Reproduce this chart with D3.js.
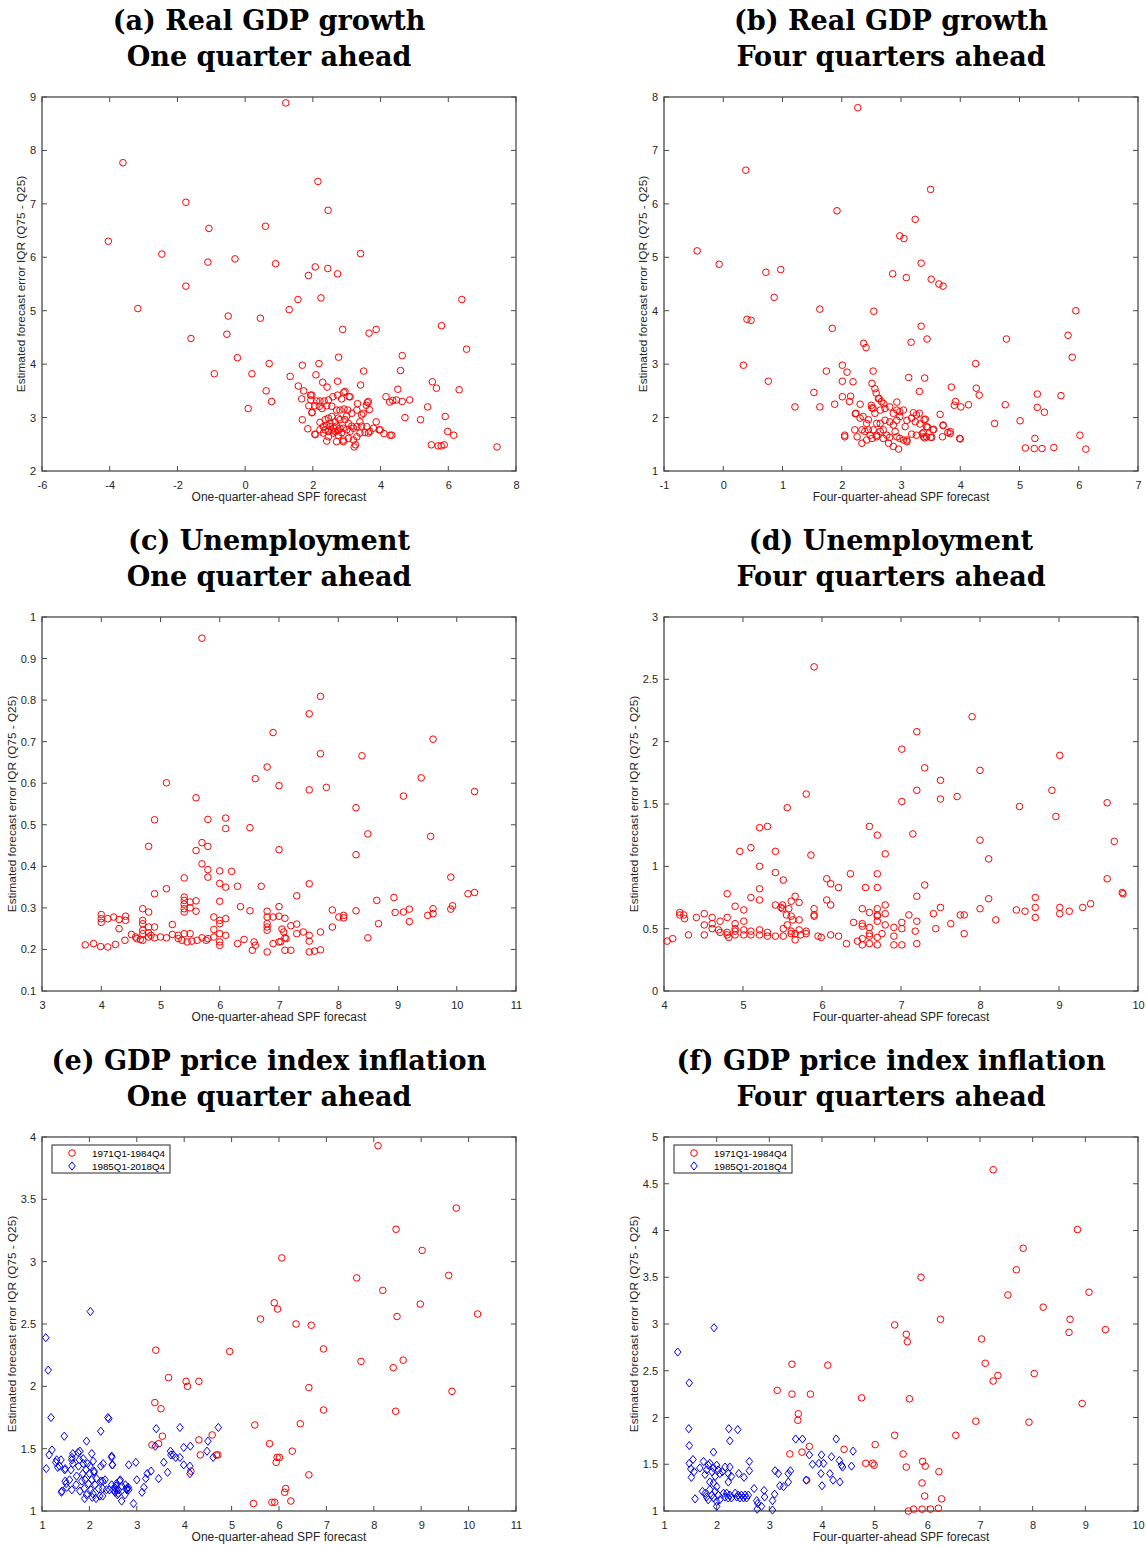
<!DOCTYPE html>
<html><head><meta charset="utf-8">
<script src="https://cdn.jsdelivr.net/npm/d3@7"></script>
<style>body{margin:0;background:#fff} svg{display:block}</style>
</head><body>
<svg id="chart" width="1146" height="1545"></svg>
<script>
// ---------- titles / labels ----------
const titleA = ["(a) Real GDP growth", "One quarter ahead"];
const titleB = ["(b) Real GDP growth", "Four quarters ahead"];
const titleC = ["(c) Unemployment", "One quarter ahead"];
const titleD = ["(d) Unemployment", "Four quarters ahead"];
const titleE = ["(e) GDP price index inflation", "One quarter ahead"];
const titleF = ["(f) GDP price index inflation", "Four quarters ahead"];
const xLabelOne = "One-quarter-ahead SPF forecast";
const xLabelFour = "Four-quarter-ahead SPF forecast";
const yLabel = "Estimated forecast error IQR (Q75 - Q25)";
const legendLabels = ["1971Q1-1984Q4", "1985Q1-2018Q4"];

// ---------- ticks ----------
const xTicksA = [-6,-4,-2,0,2,4,6,8], yTicksA = [2,3,4,5,6,7,8,9];
const xTicksB = [-1,0,1,2,3,4,5,6,7], yTicksB = [1,2,3,4,5,6,7,8];
const xTicksC = [3,4,5,6,7,8,9,10,11], yTicksC = [0.1,0.2,0.3,0.4,0.5,0.6,0.7,0.8,0.9,1];
const xTicksD = [4,5,6,7,8,9,10], yTicksD = [0,0.5,1,1.5,2,2.5,3];
const xTicksE = [1,2,3,4,5,6,7,8,9,10,11], yTicksE = [1,1.5,2,2.5,3,3.5,4];
const xTicksF = [1,2,3,4,5,6,7,8,9,10], yTicksF = [1,1.5,2,2.5,3,3.5,4,4.5,5];

// ---------- data: [SPF forecast, IQR] ----------
const ptsA = [[1.2,8.89],[-3.61,7.77],[2.15,7.42],[-1.75,7.03],[2.45,6.88],[0.6,6.58],[-1.07,6.54],[-4.04,6.3],[-2.46,6.06],[3.41,6.07],[-0.3,5.97],[-1.1,5.91],[0.9,5.88],[2.07,5.82],[2.44,5.79],[2.73,5.69],[1.87,5.66],[-1.75,5.46],[1.56,5.21],[2.24,5.24],[6.4,5.21],[-3.17,5.04],[1.3,5.02],[-0.5,4.9],[0.45,4.86],[5.8,4.72],[2.88,4.65],[3.87,4.65],[3.66,4.58],[-0.54,4.56],[-1.6,4.48],[6.54,4.28],[4.64,4.16],[2.76,4.13],[-0.23,4.12],[0.71,4.01],[1.69,3.98],[2.18,4.01],[-0.91,3.82],[0.2,3.82],[2.09,3.8],[1.33,3.77],[4.59,3.88],[3.5,3.87],[2.73,3.68],[2.29,3.66],[5.53,3.67],[3.41,3.61],[1.57,3.59],[2.42,3.57],[5.65,3.55],[6.32,3.52],[4.51,3.53],[0.62,3.5],[1.73,3.5],[2.91,3.47],[0.78,3.3],[4.16,3.39],[3.07,3.39],[1.93,3.42],[1.67,3.35],[4.27,3.29],[4.36,3.32],[4.47,3.33],[4.64,3.3],[4.86,3.33],[3.61,3.28],[3.58,3.23],[3.67,3.15],[5.39,3.2],[0.09,3.17],[5.91,3.02],[4.72,3.0],[5.18,2.96],[1.69,2.96],[5.98,2.74],[6.16,2.67],[5.5,2.49],[5.7,2.47],[5.79,2.47],[5.88,2.49],[7.44,2.45],[3.87,2.92],[3.96,2.77],[4.1,2.7],[4.28,2.67],[3.22,2.45],[3.26,2.49],[1.85,2.79],[2.07,2.68],[1.97,3.09],[1.88,3.22],
[1.97,3.42],[1.94,3.33],[2.11,3.31],[2.21,3.31],[2.33,3.31],[2.46,3.33],[2.59,3.39],[2.73,3.42],[2.85,3.35],[2.95,3.49],[3.10,3.39],[2.06,3.22],[2.19,3.21],[2.27,3.17],[2.41,3.22],[2.56,3.21],[2.70,3.14],[2.80,3.14],[2.92,3.16],[3.03,3.14],[3.15,3.08],[3.30,3.14],[3.44,3.05],[3.49,3.08],[3.64,3.30],[3.32,3.26],[1.98,3.10],[2.21,2.91],[2.46,2.99],[2.56,3.02],[2.80,2.96],[3.00,3.03],[3.39,2.92],[2.31,2.83],[2.41,2.86],[2.51,2.83],[2.61,2.80],[2.70,2.84],[2.80,2.80],[2.90,2.80],[3.00,2.77],[3.10,2.74],[3.20,2.80],[3.30,2.83],[3.44,2.84],[3.59,2.83],[3.69,2.74],[3.79,2.80],[3.99,2.77],[4.33,2.67],[2.06,2.69],[2.21,2.77],[2.31,2.71],[2.46,2.64],[2.61,2.71],[2.75,2.67],[2.90,2.58],[3.05,2.61],[3.20,2.58],[3.30,2.64],[3.39,2.71],[3.54,2.72],[3.64,2.71],[2.41,2.56],[2.70,2.55],[2.90,2.55],[2.36,2.77],[2.46,2.74],[2.56,2.76],[2.66,2.74],[2.75,2.76],[2.85,2.72],[2.51,2.89],[2.66,2.92],[2.36,2.96],[2.75,2.99],[2.95,2.96],[3.05,2.89],[3.15,2.84]];

const ptsB = [[2.27,7.8],[0.38,6.63],[3.5,6.27],[1.92,5.87],[3.24,5.71],[2.98,5.4],[3.05,5.35],[-0.44,5.12],[3.34,4.89],[-0.07,4.87],[0.97,4.77],[0.72,4.72],[2.86,4.69],[3.09,4.62],[3.51,4.59],[3.64,4.5],[3.71,4.46],[0.86,4.25],[1.63,4.03],[2.54,3.99],[5.95,4.0],[0.4,3.84],[0.47,3.82],[1.84,3.67],[3.34,3.71],[5.82,3.54],[2.37,3.39],[3.44,3.47],[4.78,3.47],[2.41,3.31],[3.17,3.41],[5.89,3.13],[0.34,2.98],[2.01,2.98],[4.26,3.01],[1.74,2.87],[2.09,2.85],[2.53,2.87],[3.13,2.75],[3.4,2.74],[0.76,2.68],[2.01,2.68],[2.19,2.67],[2.51,2.64],[3.85,2.57],[4.27,2.55],[2.56,2.54],[1.53,2.47],[2.58,2.46],[3.31,2.49],[4.32,2.42],[5.3,2.44],[5.7,2.41],[2.01,2.39],[2.15,2.4],[2.13,2.3],[2.62,2.35],[1.21,2.2],[1.63,2.2],[1.88,2.25],[2.31,2.25],[2.5,2.23],[2.51,2.18],[3.92,2.3],[3.9,2.23],[4.01,2.2],[4.14,2.24],[4.76,2.24],[5.3,2.19],[5.42,2.1],[3.66,2.06],[2.23,2.07],[2.36,2.02],[4.58,1.89],[5.01,1.94],[6.02,1.67],[5.26,1.61],[5.1,1.43],[5.25,1.42],[5.38,1.42],[5.58,1.44],[6.12,1.41],[3.99,1.61],[4.0,1.6],[3.71,1.85],[3.7,1.64],[3.54,1.77],[3.79,1.72],[3.83,1.7],[3.39,1.96],[3.45,1.82],[3.5,1.63],[3.36,1.7],[3.38,1.64],[3.4,1.62],
[2.63,2.36],[2.67,2.30],[2.71,2.26],[2.53,2.17],[2.56,2.08],[2.65,2.14],[2.73,2.17],[2.81,2.20],[2.93,2.29],[2.93,2.14],[2.87,2.08],[2.98,2.11],[3.04,2.14],[3.21,2.09],[3.26,2.05],[3.31,2.08],[3.41,1.97],[2.24,2.08],[2.42,1.89],[2.59,1.89],[2.73,1.95],[2.81,1.92],[2.93,1.95],[2.98,2.02],[3.10,1.95],[3.18,1.99],[3.24,1.92],[3.32,1.88],[3.43,1.83],[3.55,1.78],[3.71,1.86],[3.83,1.74],[2.05,1.67],[2.05,1.64],[2.22,1.77],[2.26,1.64],[2.34,1.77],[2.39,1.74],[2.45,1.77],[2.53,1.77],[2.59,1.67],[2.65,1.74],[2.70,1.77],[2.76,1.67],[2.81,1.63],[2.90,1.74],[2.93,1.64],[2.98,1.61],[3.04,1.58],[3.10,1.58],[3.18,1.69],[3.26,1.67],[3.38,1.72],[3.43,1.64],[3.52,1.63],[2.34,1.52],[2.42,1.58],[2.51,1.61],[2.59,1.64],[2.79,1.52],[2.87,1.46],[2.96,1.41],[3.10,1.55],[2.31,1.99],[2.45,1.96],[2.65,1.89],[2.87,1.86],[3.07,1.83],[2.70,1.61],[2.48,1.67]];

const ptsC = [[5.70,0.949],[7.70,0.809],[7.51,0.767],[6.90,0.722],[9.60,0.706],[7.70,0.671],[8.40,0.666],[6.80,0.639],[9.40,0.613],[6.60,0.611],[5.10,0.601],[7.00,0.594],[7.80,0.590],[7.51,0.584],[10.30,0.580],[9.10,0.569],[5.60,0.565],[8.30,0.541],[6.10,0.516],[4.90,0.512],[5.80,0.513],[6.10,0.491],[6.51,0.493],[8.50,0.478],[9.56,0.472],[5.70,0.457],[5.60,0.438],[4.80,0.448],[5.80,0.448],[7.00,0.440],[8.30,0.428],[5.70,0.406],[5.80,0.392],[5.80,0.374],[6.00,0.389],[6.20,0.388],[9.90,0.374],[5.40,0.372],[6.00,0.359],[7.51,0.358],[6.10,0.350],[6.30,0.352],[6.70,0.352],[5.10,0.346],[10.30,0.337],[10.19,0.334],[4.90,0.334],[7.30,0.329],[8.94,0.325],[5.40,0.326],[5.40,0.318],[5.40,0.309],[5.40,0.298],[5.40,0.290],[5.50,0.314],[5.50,0.300],[5.60,0.317],[5.60,0.292],[6.00,0.316],[8.65,0.318],[6.35,0.303],[7.00,0.303],[9.93,0.305],[9.90,0.297],[9.60,0.298],[9.60,0.286],[9.51,0.282],[9.20,0.297],[9.10,0.290],[8.96,0.289],[9.20,0.267],[7.90,0.295],[8.30,0.293],[6.51,0.293],[6.80,0.292],[6.80,0.278],[6.80,0.262],[6.80,0.254],[6.80,0.246],[6.90,0.278],[7.00,0.280],[7.10,0.275],[8.01,0.278],[8.09,0.282],[8.09,0.276],[7.90,0.254],[8.68,0.262],[7.30,0.261],[7.20,0.257],[7.05,0.249],[7.08,0.242],[7.30,0.238],[7.41,0.242],[7.51,0.234],[7.51,0.220],[7.70,0.242],[7.10,0.228],[7.12,0.226],[7.00,0.218],[7.03,0.219],[6.90,0.214],[8.50,0.228],[6.30,0.214],[6.41,0.224],[6.58,0.218],[6.60,0.210],[6.55,0.198],[6.80,0.194],[7.10,0.198],[7.20,0.198],[7.51,0.194],[7.60,0.196],[7.70,0.199],[6.00,0.270],[6.00,0.262],[6.00,0.238],[6.00,0.218],[6.00,0.210],[6.10,0.274],[6.10,0.234],[5.90,0.278],[5.90,0.248],[5.90,0.230],[5.80,0.226],[5.77,0.222],[5.70,0.228],[5.62,0.222],[5.53,0.220],[5.45,0.218],[5.50,0.238],[5.40,0.238],[5.30,0.234],[5.20,0.236],[5.10,0.228],[5.00,0.230],[4.90,0.228],[4.84,0.234],[5.20,0.260],[4.90,0.254],[4.80,0.290],[4.70,0.298],[4.70,0.270],[4.70,0.262],[4.70,0.246],[4.70,0.238],[4.70,0.222],[4.80,0.254],[4.80,0.240],[4.80,0.230],[4.60,0.226],[4.66,0.224],[4.58,0.230],[4.51,0.236],[4.40,0.222],[4.30,0.250],[4.41,0.280],[4.41,0.270],[4.30,0.272],[4.21,0.278],[4.11,0.274],[4.00,0.284],[4.00,0.274],[4.00,0.265],[3.73,0.211],[3.87,0.214],[3.99,0.207],[4.11,0.206],[4.24,0.212],[5.30,0.226],[5.36,0.222]];

const ptsD = [[5.90,2.60],[7.90,2.20],[7.20,2.08],[7.01,1.94],[9.01,1.89],[7.30,1.79],[8.00,1.77],[7.50,1.69],[7.20,1.61],[8.91,1.61],[5.80,1.58],[7.71,1.56],[7.50,1.54],[7.01,1.52],[9.61,1.51],[8.50,1.48],[5.56,1.47],[8.96,1.40],[6.60,1.32],[5.21,1.31],[5.31,1.32],[6.70,1.25],[7.15,1.26],[8.00,1.21],[9.70,1.20],[5.10,1.15],[4.96,1.12],[5.41,1.12],[5.86,1.09],[6.80,1.10],[8.11,1.06],[5.21,1.00],[5.41,0.95],[6.36,0.94],[6.70,0.94],[5.51,0.89],[6.06,0.90],[6.11,0.86],[9.61,0.90],[6.21,0.83],[6.55,0.83],[6.70,0.83],[5.21,0.82],[7.30,0.85],[4.80,0.78],[9.80,0.79],[9.81,0.78],[7.20,0.76],[8.70,0.75],[5.66,0.76],[5.10,0.75],[5.21,0.73],[8.11,0.74],[5.61,0.72],[5.71,0.71],[6.06,0.73],[9.40,0.70],[5.41,0.69],[5.50,0.69],[5.50,0.66],[5.48,0.67],[6.11,0.69],[6.80,0.69],[4.90,0.68],[5.01,0.65],[5.90,0.66],[5.90,0.61],[5.90,0.60],[6.51,0.66],[6.70,0.66],[6.70,0.61],[6.70,0.60],[6.70,0.56],[6.60,0.63],[6.80,0.62],[7.50,0.67],[8.70,0.67],[8.70,0.59],[9.01,0.67],[9.01,0.62],[9.30,0.67],[9.13,0.64],[8.46,0.65],[8.57,0.64],[8.00,0.66],[7.41,0.62],[7.10,0.61],[7.75,0.61],[7.80,0.61],[7.63,0.54],[8.20,0.57],[7.20,0.56],[7.01,0.55],[6.40,0.55],[6.51,0.54],[6.51,0.52],[6.80,0.53],[6.60,0.51],[6.60,0.46],[6.60,0.44],[6.91,0.51],[6.91,0.44],[7.01,0.50],[7.44,0.50],[7.18,0.48],[7.80,0.46],[6.76,0.46],[6.70,0.43],[6.51,0.42],[6.51,0.37],[6.45,0.40],[6.31,0.38],[6.60,0.38],[6.70,0.37],[6.91,0.37],[7.01,0.37],[7.20,0.38],[6.21,0.44],[6.11,0.45],[5.99,0.43],[5.95,0.44],[4.04,0.40],[4.11,0.42],[4.20,0.63],[4.20,0.61],[4.25,0.61],[4.26,0.58],[4.31,0.45],[4.41,0.59],[4.51,0.62],[4.51,0.53],[4.51,0.45],[4.61,0.59],[4.61,0.54],[4.61,0.50],[4.71,0.56],[4.69,0.49],[4.71,0.47],[4.80,0.59],[4.80,0.47],[4.80,0.45],[4.82,0.43],[4.90,0.54],[4.90,0.50],[4.90,0.48],[4.90,0.45],[5.01,0.56],[5.01,0.49],[5.01,0.45],[5.10,0.48],[5.10,0.45],[5.21,0.49],[5.21,0.45],[5.31,0.47],[5.31,0.44],[5.41,0.44],[5.51,0.50],[5.51,0.44],[5.56,0.53],[5.61,0.48],[5.61,0.46],[5.63,0.57],[5.61,0.60],[5.66,0.46],[5.66,0.41],[5.71,0.57],[5.71,0.49],[5.73,0.45],[5.80,0.48],[5.80,0.46],[5.55,0.61],[5.58,0.66]];

const ptsE_early = [[8.09,3.93],[9.74,3.43],[8.47,3.26],[9.02,3.09],[6.06,3.03],[7.64,2.87],[9.58,2.89],[8.19,2.77],[5.90,2.67],[8.98,2.66],[5.97,2.62],[10.19,2.58],[8.49,2.56],[5.61,2.54],[6.36,2.50],[6.68,2.49],[3.40,2.29],[4.96,2.28],[6.94,2.30],[7.73,2.20],[8.62,2.21],[8.41,2.15],[3.67,2.07],[4.04,2.04],[4.07,2.00],[4.31,2.04],[6.63,1.99],[9.65,1.96],[3.38,1.87],[3.51,1.82],[6.94,1.81],[8.46,1.80],[5.49,1.69],[6.45,1.70],[3.54,1.60],[4.59,1.61],[4.31,1.57],[3.46,1.54],[3.32,1.53],[5.80,1.54],[6.28,1.48],[4.34,1.45],[4.68,1.45],[4.71,1.45],[5.96,1.43],[6.01,1.43],[5.94,1.39],[4.14,1.32],[6.63,1.29],[6.14,1.18],[6.12,1.15],[5.46,1.06],[5.85,1.07],[5.91,1.07],[6.25,1.08]];

const ptsE_late = [[2.02,2.60],[1.08,2.39],[1.13,2.13],[1.19,1.75],[2.39,1.75],[2.41,1.74],[2.24,1.64],[3.91,1.67],[3.41,1.66],[4.72,1.67],[1.47,1.60],[1.94,1.56],[4.50,1.56],[1.21,1.49],[1.15,1.45],[3.99,1.51],[4.13,1.52],[3.39,1.52],[1.76,1.47],[1.65,1.46],[1.63,1.43],[1.63,1.41],[3.71,1.48],[3.72,1.45],[3.77,1.45],[3.82,1.43],[4.48,1.48],[4.61,1.43],[2.47,1.43],[1.09,1.34],[1.40,1.41],[1.29,1.39],[1.33,1.35],[3.57,1.39],[2.98,1.39],[2.83,1.37],[3.91,1.43],[3.99,1.37],[4.12,1.36],[2.48,1.37],[2.24,1.36],[3.30,1.32],[3.22,1.30],[3.65,1.31],[4.12,1.30],[1.48,1.33],[2.10,1.31],[3.00,1.25],[3.46,1.26],[3.19,1.26],[3.15,1.19],[3.11,1.15],[2.64,1.24],[2.57,1.22],[2.53,1.19],[2.57,1.17],[2.61,1.14],[2.68,1.08],[2.83,1.17],[2.93,1.06],[2.76,1.21],[2.79,1.18],[1.41,1.15],[1.51,1.22],[2.28,1.24],[2.28,1.12],[2.06,1.11],[1.90,1.10],
[1.42,1.16],[1.49,1.24],[1.52,1.19],[1.58,1.25],[1.61,1.33],[1.63,1.17],[1.65,1.38],[1.72,1.21],[1.73,1.28],[1.77,1.36],[1.79,1.41],[1.80,1.16],[1.84,1.24],[1.86,1.30],[1.87,1.38],[1.89,1.18],[1.91,1.25],[1.93,1.33],[1.94,1.13],[1.96,1.38],[1.98,1.22],[2.00,1.30],[2.01,1.36],[2.03,1.17],[2.05,1.25],[2.07,1.14],[2.08,1.40],[2.10,1.32],[2.12,1.21],[2.14,1.10],[2.15,1.26],[2.19,1.18],[2.22,1.12],[2.24,1.24],[2.28,1.18],[2.29,1.38],[2.33,1.25],[2.36,1.17],[2.42,1.17],[2.47,1.21],[2.51,1.17],[2.54,1.15],[2.56,1.20],[2.59,1.13],[2.61,1.17],[2.65,1.25],[2.68,1.20],[2.75,1.13],[2.79,1.17],[2.82,1.19],[2.47,1.44],[2.49,1.37],[2.05,1.46],[1.87,1.42],[1.80,1.48],[1.31,1.41],[1.49,1.34],[1.37,1.36]];

const ptsF_early = [[7.25,4.65],[8.85,4.01],[7.82,3.81],[7.69,3.58],[5.88,3.50],[7.53,3.31],[9.07,3.34],[8.20,3.18],[6.25,3.05],[8.71,3.05],[5.38,2.99],[9.38,2.94],[8.69,2.91],[5.60,2.89],[5.62,2.81],[7.03,2.84],[7.10,2.58],[3.43,2.57],[4.11,2.56],[8.03,2.47],[7.34,2.45],[7.25,2.39],[3.15,2.29],[3.43,2.25],[3.78,2.25],[4.75,2.21],[5.66,2.20],[8.94,2.15],[3.55,2.04],[3.54,1.97],[6.92,1.96],[7.93,1.95],[5.38,1.81],[6.54,1.81],[5.01,1.71],[3.76,1.69],[4.42,1.66],[3.62,1.63],[3.39,1.61],[5.54,1.61],[4.83,1.51],[4.96,1.51],[4.99,1.49],[5.91,1.53],[5.96,1.48],[5.60,1.47],[6.22,1.42],[3.71,1.33],[5.90,1.30],[5.95,1.16],[6.27,1.13],[6.21,1.03],[6.06,1.02],[5.90,1.02],[5.74,1.02],[5.64,1.00]];

const ptsF_late = [[1.95,2.96],[1.26,2.70],[1.48,2.37],[1.47,1.88],[1.48,1.70],[2.23,1.88],[2.40,1.87],[2.25,1.75],[1.94,1.63],[2.62,1.53],[3.50,1.77],[3.63,1.77],[4.27,1.77],[4.59,1.64],[3.76,1.60],[3.99,1.60],[4.18,1.58],[4.33,1.54],[3.82,1.50],[3.94,1.51],[4.03,1.51],[4.37,1.49],[4.39,1.47],[4.56,1.48],[3.98,1.40],[4.15,1.40],[4.21,1.33],[4.34,1.31],[4.00,1.27],[3.70,1.33],[3.40,1.43],[3.36,1.40],[3.36,1.31],[3.11,1.43],[3.17,1.40],[3.20,1.27],[3.27,1.26],[3.10,1.18],[3.06,1.11],[3.06,1.01],[2.90,1.22],[2.91,1.15],[2.71,1.24],[2.76,1.11],[2.78,1.08],[2.77,1.02],[2.85,1.05],[2.62,1.43],[2.52,1.36],[2.42,1.40],[1.48,1.51],[1.51,1.45],[1.52,1.36],[1.55,1.55],[1.57,1.42],[1.59,1.13],[1.68,1.46],
[1.75,1.53],[1.81,1.44],[1.78,1.39],[1.84,1.49],[1.87,1.51],[1.91,1.42],[1.94,1.46],[1.97,1.37],[2.00,1.49],[2.03,1.44],[1.94,1.30],[2.00,1.26],[2.06,1.40],[2.11,1.42],[2.16,1.47],[2.22,1.40],[2.25,1.47],[2.28,1.37],[2.22,1.31],[1.87,1.31],[1.73,1.21],[1.78,1.19],[1.81,1.15],[1.84,1.12],[1.87,1.23],[1.91,1.17],[1.94,1.14],[1.97,1.21],[2.00,1.10],[2.03,1.17],[2.06,1.12],[2.13,1.19],[2.16,1.15],[2.19,1.19],[2.22,1.14],[2.25,1.17],[2.28,1.14],[2.35,1.19],[2.38,1.15],[2.41,1.17],[2.44,1.14],[2.47,1.17],[2.51,1.14],[2.54,1.17],[2.57,1.14],[2.60,1.17],[2.00,1.05]];

// ---------- drawing ----------
const svg = d3.select('#chart');
const W = 474, H = 374;
const colX = [42, 664], rowY = [97, 617, 1137];
const axisColor = '#262626';
const boxColor = '#4a4a4a';
const sans = '"Liberation Sans", Arial, Helvetica, sans-serif';
const serif = '"DejaVu Serif", "Liberation Serif", serif';
const RED = '#ff0000', BLUE = '#0000ff';

// calibrate title size against the reference width of the first title line
const probe = svg.append('text').attr('font-family', serif).attr('font-weight', 'bold')
  .attr('font-size', 100).text(titleA[0]);
const titleSize = 100 * 313 / probe.node().getComputedTextLength();
probe.remove();

const circle = (g, pts, x, y) => g.append('g').selectAll('circle').data(pts).join('circle')
  .attr('cx', d => x(d[0])).attr('cy', d => y(d[1])).attr('r', 3.3)
  .attr('fill', 'none').attr('stroke', RED).attr('stroke-width', 1);
const diamondPath = 'M0,-4.1L3.3,0L0,4.1L-3.3,0Z';
const diamond = (g, pts, x, y) => g.append('g').selectAll('path').data(pts).join('path')
  .attr('transform', d => `translate(${x(d[0])},${y(d[1])})`).attr('d', diamondPath)
  .attr('fill', 'none').attr('stroke', BLUE).attr('stroke-width', 1);

function panel(col, row, title, xlabel, xTicks, yTicks, series, legend) {
  const x0 = colX[col], y0 = rowY[row];
  const g = svg.append('g').attr('transform', `translate(${x0},${y0})`);
  const x = d3.scaleLinear().domain(d3.extent(xTicks)).range([0, W]);
  const y = d3.scaleLinear().domain(d3.extent(yTicks)).range([H, 0]);

  // titles
  title.forEach((t, i) => svg.append('text')
    .attr('x', x0 + W / 2 - 10).attr('y', y0 - 67 + i * 36)
    .attr('text-anchor', 'middle').attr('font-family', serif).attr('font-weight', 'bold')
    .attr('font-size', titleSize).attr('fill', '#000').text(t));

  // axes (MATLAB box style with inward ticks on all sides)
  const fmt = v => String(v);
  const bottom = d3.axisBottom(x).tickValues(xTicks).tickSize(0).tickFormat(fmt).tickPadding(10);
  const left = d3.axisLeft(y).tickValues(yTicks).tickSize(0).tickFormat(fmt).tickPadding(6);
  const gb = g.append('g').attr('transform', `translate(0,${H})`).call(bottom);
  const gl = g.append('g').call(left);
  [gb, gl].forEach(a => {
    a.select('.domain').remove();
    a.selectAll('text').attr('font-family', sans).attr('font-size', 11).attr('fill', axisColor);
  });
  const tl = 5;
  const tk = g.append('g').attr('stroke', boxColor).attr('stroke-width', 1);
  xTicks.forEach(v => {
    tk.append('line').attr('x1', x(v)).attr('x2', x(v)).attr('y1', H).attr('y2', H - tl);
    tk.append('line').attr('x1', x(v)).attr('x2', x(v)).attr('y1', 0).attr('y2', tl);
  });
  yTicks.forEach(v => {
    tk.append('line').attr('x1', 0).attr('x2', tl).attr('y1', y(v)).attr('y2', y(v));
    tk.append('line').attr('x1', W).attr('x2', W - tl).attr('y1', y(v)).attr('y2', y(v));
  });
  g.append('rect').attr('x', 0).attr('y', 0).attr('width', W).attr('height', H)
    .attr('fill', 'none').attr('stroke', boxColor).attr('stroke-width', 1.3);

  // axis labels
  g.append('text').attr('x', W / 2).attr('y', H + 30).attr('text-anchor', 'middle')
    .attr('font-family', sans).attr('font-size', 12).attr('fill', axisColor).text(xlabel);
  let maxW = 0;
  gl.selectAll('text').each(function () { maxW = Math.max(maxW, this.getComputedTextLength()); });
  g.append('text').attr('transform', `translate(${-maxW - 11},${H / 2}) rotate(-90)`)
    .attr('text-anchor', 'middle').attr('font-family', sans).attr('font-size', 11.8)
    .attr('fill', axisColor).text(yLabel);

  // data
  series.forEach(s => s.kind === 'circle' ? circle(g, s.pts, x, y) : diamond(g, s.pts, x, y));

  // legend
  if (legend) {
    const lg = g.append('g').attr('transform', `translate(${legend.dx},8)`);
    lg.append('rect').attr('x', 0).attr('y', 0).attr('width', legend.w).attr('height', 28)
      .attr('fill', '#fff').attr('stroke', axisColor).attr('stroke-width', 1);
    legendLabels.forEach((t, i) => {
      const cy = 8 + i * 13;
      if (i === 0) lg.append('circle').attr('cx', 20).attr('cy', cy).attr('r', 3.3)
        .attr('fill', 'none').attr('stroke', RED).attr('stroke-width', 1);
      else lg.append('path').attr('transform', `translate(20,${cy})`).attr('d', diamondPath)
        .attr('fill', 'none').attr('stroke', BLUE).attr('stroke-width', 1);
      lg.append('text').attr('x', 40).attr('y', cy + 3.5).attr('font-family', sans)
        .attr('font-size', 9.8).attr('fill', '#000').text(t);
    });
  }
}

panel(0, 0, titleA, xLabelOne, xTicksA, yTicksA, [{kind: 'circle', pts: ptsA}]);
panel(1, 0, titleB, xLabelFour, xTicksB, yTicksB, [{kind: 'circle', pts: ptsB}]);
panel(0, 1, titleC, xLabelOne, xTicksC, yTicksC, [{kind: 'circle', pts: ptsC}]);
panel(1, 1, titleD, xLabelFour, xTicksD, yTicksD, [{kind: 'circle', pts: ptsD}]);
panel(0, 2, titleE, xLabelOne, xTicksE, yTicksE,
  [{kind: 'circle', pts: ptsE_early}, {kind: 'diamond', pts: ptsE_late}], {dx: 10, w: 118});
panel(1, 2, titleF, xLabelFour, xTicksF, yTicksF,
  [{kind: 'circle', pts: ptsF_early}, {kind: 'diamond', pts: ptsF_late}], {dx: 10, w: 118});
</script>
</body></html>
